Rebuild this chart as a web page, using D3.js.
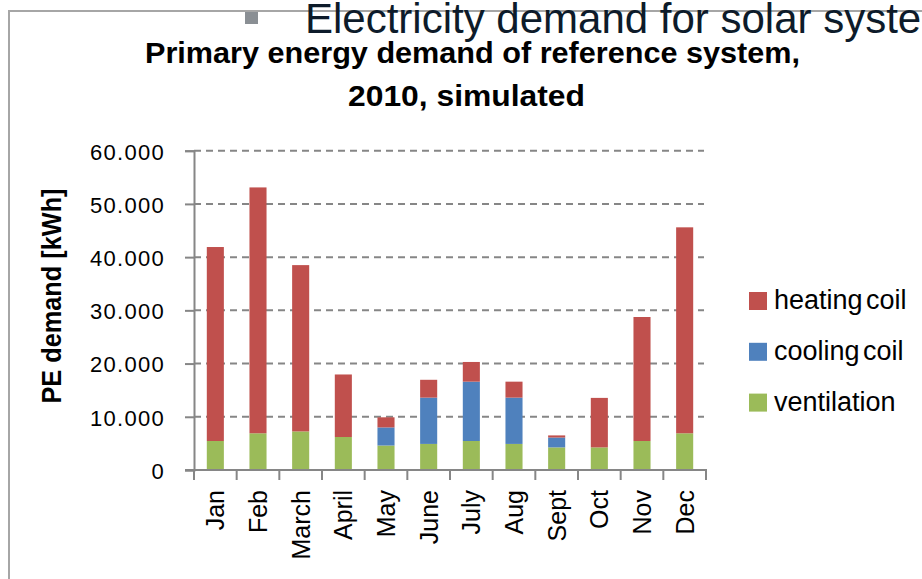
<!DOCTYPE html>
<html>
    <head>
        <meta charset="utf-8">
        <title>PE demand reference system</title>
        <script src="https://d3js.org/d3.v7.min.js" charset="utf-8"></script>
        <style type="text/css">
        body {
            margin: 0;
            background: white;
        }

        svg text {
            font-family: 'Liberation Sans', Arial, sans-serif;
            fill: black;
        }

        /* no narrow face installed, width is squeezed with textLength */
        .narrow_bold {
            font-family: 'Liberation Sans', Arial, sans-serif;
            font-weight: bold;
        }
        </style>
    </head>
    <body>
        <script type="text/javascript">

        // values, kWh per month
        var months = ['Jan', 'Feb', 'March', 'April', 'May', 'June', 'July', 'Aug', 'Sept', 'Oct', 'Nov', 'Dec'];
        var ventilation = [5450, 6900, 7250, 6200, 4600, 4900, 5450, 4900, 4250, 4250, 5450, 6900];
        var cooling_coil = [0, 0, 0, 0, 3400, 8700, 11150, 8700, 1850, 0, 0, 0];
        var heating_coil = [36450, 46200, 31250, 11750, 1900, 3350, 3700, 3000, 400, 9300, 23300, 38700];
        var y_ticks = [0, 10000, 20000, 30000, 40000, 50000, 60000];
        var series_names = ['ventilation', 'cooling coil', 'heating coil'];
        var series_colors = ['#9bbb59', '#4f81bd', '#c0504d'];

        var w = 922;
        var h = 579;
        var grey = '#868686';

        var svg = d3.select('body')
          .append('svg')
          .attr('width', w)
          .attr('height', h)
          .attr('viewBox', '0 0 ' + w + ' ' + h);

        // slide frame and the clipped bullet heading above the chart
        svg.append('line')
           .attr('x1', 8).attr('x2', w)
           .attr('y1', 11).attr('y2', 11)
           .attr('stroke', '#a6a6a6').attr('stroke-width', 2);
        svg.append('line')
           .attr('x1', 9).attr('x2', 9)
           .attr('y1', 11).attr('y2', h)
           .attr('stroke', '#a6a6a6').attr('stroke-width', 2);
        svg.append('rect')
           .attr('x', 245).attr('y', 12)
           .attr('width', 13).attr('height', 12)
           .attr('fill', '#8a8f94');
        svg.append('text')
           .text('Electricity demand for solar system')
           .attr('x', 305).attr('y', 33)
           .style('font-size', '42px')
           .style('fill', '#0d1b2a');

        // chart title
        var title = svg.append('text')
           .attr('class', 'narrow_bold')
           .style('font-size', '30px');
        title.append('tspan')
             .attr('x', 145).attr('y', 63)
             .attr('textLength', 655).attr('lengthAdjust', 'spacingAndGlyphs')
             .text('Primary energy demand of reference system,');
        title.append('tspan')
             .attr('x', 348).attr('y', 106)
             .attr('textLength', 237).attr('lengthAdjust', 'spacingAndGlyphs')
             .text('2010, simulated');

        // scales
        var x = d3.scaleBand()
          .domain(months)
          .range([194, 706])
          .paddingInner(0.6)
          .paddingOuter(0.3);

        var y = d3.scaleLinear()
          .domain([0, 60000])
          .range([470, 150.7]);

        var de = d3.formatLocale({decimal: ',', thousands: '.', grouping: [3], currency: ['', ' €']});
        var fmt = de.format(',d');

        // dashed gridlines
        svg.append('g')
           .selectAll('line')
           .data(y_ticks.slice(1))
           .enter()
           .append('line')
           .attr('x1', 194).attr('x2', 704)
           .attr('y1', function(d){ return y(d); })
           .attr('y2', function(d){ return y(d); })
           .attr('stroke', grey)
           .attr('stroke-width', 2)
           .attr('stroke-dasharray', '7,5');

        // stacked bars
        var table = months.map(function(m, i){
            return {month: m, 'ventilation': ventilation[i], 'cooling coil': cooling_coil[i], 'heating coil': heating_coil[i]};
        });
        var stacked = d3.stack().keys(series_names)(table);

        svg.append('g')
           .selectAll('g')
           .data(stacked)
           .enter()
           .append('g')
           .attr('fill', function(d, i){ return series_colors[i]; })
           .selectAll('rect')
           .data(function(d){ return d; })
           .enter()
           .append('rect')
           .attr('x', function(d){ return x(d.data.month); })
           .attr('width', x.bandwidth())
           .attr('y', function(d){ return y(d[1]); })
           .attr('height', function(d){ return y(d[0]) - y(d[1]); });

        // y axis
        var yAxis = svg.append('g')
           .attr('transform', 'translate(194,0)')
           .call(d3.axisLeft(y).tickValues(y_ticks).tickSize(9).tickPadding(20).tickFormat(fmt));
        yAxis.select('.domain').attr('stroke', grey).attr('stroke-width', 2);
        yAxis.selectAll('.tick line').attr('stroke', grey).attr('stroke-width', 2);
        yAxis.selectAll('.tick text')
             .style('font-size', '22px')
             .style('letter-spacing', '1.3px')
             .style('font-family', "'Liberation Sans', Arial, sans-serif")
             .attr('dy', '0.38em')
             .attr('fill', 'black');

        // x axis with ticks between the months
        var xAxis = svg.append('g')
           .attr('transform', 'translate(0,470)');
        xAxis.append('line')
             .attr('x1', 185).attr('x2', 707)
             .attr('stroke', grey).attr('stroke-width', 2);
        xAxis.selectAll('line.sep')
             .data(d3.range(months.length + 1))
             .enter()
             .append('line')
             .attr('class', 'sep')
             .attr('x1', function(i){ return 194 + i * x.step(); })
             .attr('x2', function(i){ return 194 + i * x.step(); })
             .attr('y1', 0).attr('y2', 10)
             .attr('stroke', grey).attr('stroke-width', 2);
        xAxis.selectAll('text')
             .data(months)
             .enter()
             .append('text')
             .text(function(d){ return d; })
             .attr('text-anchor', 'end')
             .attr('transform', function(d){
                 return 'translate(' + (x(d) + x.bandwidth() / 2 + 9) + ',20) rotate(-90)';
             })
             .style('font-size', '25px');

        // y axis title
        svg.append('text')
           .attr('class', 'narrow_bold')
           .text('PE demand [kWh]')
           .attr('x', -215 / 2)
           .attr('textLength', 215).attr('lengthAdjust', 'spacingAndGlyphs')
           .attr('transform', 'translate(61,296) rotate(-90)')
           .style('font-size', '27px');

        // legend, top entry is the top of the stack
        var legend = svg.append('g')
           .selectAll('g')
           .data(series_names.slice().reverse())
           .enter()
           .append('g')
           .attr('transform', function(d, i){ return 'translate(749,' + (292 + i * 50.8) + ')'; });
        legend.append('rect')
              .attr('width', 18).attr('height', 18)
              .attr('fill', function(d){ return series_colors[series_names.indexOf(d)]; });
        legend.append('text')
              .text(function(d){ return d; })
              .attr('x', 25).attr('y', 17)
              .style('font-size', '27px')
              .style('word-spacing', '-4px');

        </script>
    </body>
</html>
